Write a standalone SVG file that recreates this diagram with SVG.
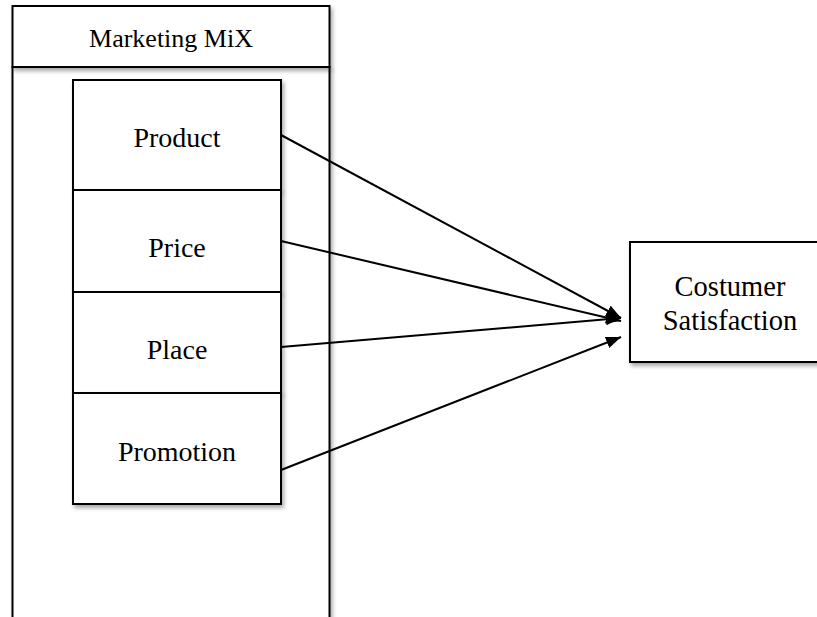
<svg xmlns="http://www.w3.org/2000/svg" width="817" height="617" viewBox="0 0 817 617">
<defs>
<filter id="sh" x="-10%" y="-10%" width="130%" height="130%">
<feGaussianBlur in="SourceAlpha" stdDeviation="2"/>
<feOffset dx="2" dy="3" result="b"/>
<feComponentTransfer><feFuncA type="linear" slope="0.35"/></feComponentTransfer>
<feMerge><feMergeNode/><feMergeNode in="SourceGraphic"/></feMerge>
</filter>
<marker id="ah" markerWidth="15" markerHeight="12" refX="15" refY="6" orient="auto" markerUnits="userSpaceOnUse" viewBox="0 0 15 12">
<path d="M0,0 L15,6 L0,12 z" fill="#000"/>
</marker>
</defs>
<style>
.box{fill:#fff;stroke:#000;stroke-width:2}
.t{font-family:"Liberation Serif","Times New Roman",serif;fill:#000;text-anchor:middle}
.c{stroke:#000;stroke-width:2;fill:none;marker-end:url(#ah)}
</style>
<rect width="817" height="617" fill="#fff"/>
<g id="marketing-mix">
<rect class="box" x="12.5" y="67" width="317" height="560" filter="url(#sh)"/>
<rect class="box" x="12.5" y="6" width="317" height="61" filter="url(#sh)"/>
<text class="t" x="171" y="47" font-size="26">Marketing MiX</text>
</g>
<g id="product">
<rect class="box" x="73" y="80" width="208" height="110" filter="url(#sh)"/>
<text class="t" x="177" y="147" font-size="28">Product</text>
</g>
<g id="price">
<rect class="box" x="73" y="190" width="208" height="102" filter="url(#sh)"/>
<text class="t" x="177" y="257" font-size="28">Price</text>
</g>
<g id="place">
<rect class="box" x="73" y="292" width="208" height="101" filter="url(#sh)"/>
<text class="t" x="177" y="359" font-size="28">Place</text>
</g>
<g id="promotion">
<rect class="box" x="73" y="393" width="208" height="111" filter="url(#sh)"/>
<text class="t" x="177" y="461" font-size="28">Promotion</text>
</g>
<g id="customer-satisfaction">
<rect class="box" x="630" y="242" width="200" height="120" filter="url(#sh)"/>
<text class="t" x="730" y="296" font-size="28.5">Costumer</text>
<text class="t" x="730" y="330" font-size="28.5">Satisfaction</text>
</g>
<g id="connectors">
<line class="c" x1="281" y1="135" x2="621" y2="318"/>
<line class="c" x1="281" y1="241" x2="621" y2="321"/>
<line class="c" x1="281" y1="347" x2="621" y2="318"/>
<line class="c" x1="281" y1="470" x2="621" y2="337"/>
</g>
</svg>
